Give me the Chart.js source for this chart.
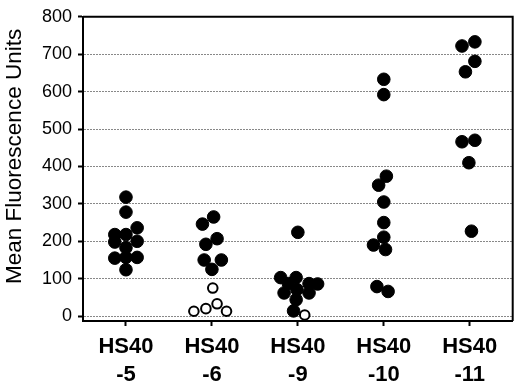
<!DOCTYPE html>
<html>
<head>
<meta charset="utf-8">
<script src="https://cdn.jsdelivr.net/npm/chart.js@4/dist/chart.umd.min.js"></script>
<style>
  html, body { margin: 0; padding: 0; background: #fff; }
  #wrap { width: 520px; height: 382px; }
</style>
</head>
<body>
<div id="wrap"><canvas id="chart" width="520" height="382"></canvas></div>
<script>
// group labels (two lines each)
const groupLabels = [["HS40", "-5"], ["HS40", "-6"], ["HS40", "-9"], ["HS40", "-10"], ["HS40", "-11"]];
const yTicks = [0, 100, 200, 300, 400, 500, 600, 700, 800];

// filled circles: values and sideways spread within each group
const hs5 = [318, 278, 236, 218, 218, 200, 198, 183, 155, 157, 157, 124];
const hs5Spread = [0, 0, 0.13, -0.13, 0, 0.13, -0.13, 0, -0.13, 0, 0.13, 0];
const hs6 = [265, 246, 207, 192, 150, 150, 125];
const hs6Spread = [0.02, -0.11, 0.06, -0.07, -0.09, 0.11, 0];
const hs9 = [224, 103, 103, 87, 87, 86, 62, 71, 62, 44, 14];
const hs9Spread = [0, -0.2, -0.02, -0.11, 0.13, 0.23, -0.16, -0.01, 0.13, -0.02, -0.05];
const hs10 = [633, 592, 374, 350, 305, 250, 211, 190, 178, 79, 66];
const hs10Spread = [0, 0, 0.03, -0.06, 0, 0, 0, -0.12, 0.02, -0.08, 0.05];
const hs11 = [722, 733, 681, 653, 466, 470, 410, 227];
const hs11Spread = [-0.09, 0.06, 0.06, -0.05, -0.09, 0.06, -0.01, 0.02];

// open circles
const hs6Open = [75, 33, 20, 13, 13];
const hs6OpenSpread = [0.01, 0.06, -0.07, -0.21, 0.17];
const hs9Open = [3];
const hs9OpenSpread = [0.08];

function toPoints(group, values, spread) {
    return values.map((v, i) => ({ x: group + spread[i], y: v }));
}

const filled = [].concat(
    toPoints(1, hs5, hs5Spread),
    toPoints(2, hs6, hs6Spread),
    toPoints(3, hs9, hs9Spread),
    toPoints(4, hs10, hs10Spread),
    toPoints(5, hs11, hs11Spread)
);
const open = [].concat(
    toPoints(2, hs6Open, hs6OpenSpread),
    toPoints(3, hs9Open, hs9OpenSpread)
);

// solid frame on top and right of the plot
const framePlugin = {
    id: "frame",
    afterDatasetsDraw(chart) {
        const { ctx, chartArea: a } = chart;
        ctx.save();
        ctx.strokeStyle = "#000";
        ctx.lineWidth = 2;
        ctx.beginPath();
        ctx.moveTo(a.left, a.top);
        ctx.lineTo(a.right, a.top);
        ctx.lineTo(a.right, a.bottom);
        ctx.stroke();
        ctx.restore();
    }
};

new Chart(document.getElementById("chart"), {
    type: "scatter",
    data: {
        datasets: [{
            data: filled,
            backgroundColor: "#000",
            borderColor: "#000",
            borderWidth: 1,
            pointRadius: 6.3,
            pointHoverRadius: 6.3
        }, {
            data: open,
            backgroundColor: "#fff",
            borderColor: "#000",
            borderWidth: 2,
            pointRadius: 4.8,
            pointHoverRadius: 4.8
        }]
    },
    options: {
        responsive: false,
        animation: false,
        clip: false,
        layout: { padding: { top: 10, right: 2, left: 0, bottom: 0 } },
        plugins: {
            legend: { display: false },
            tooltip: { enabled: false }
        },
        scales: {
            x: {
                type: "linear",
                min: 0.5,
                max: 5.5,
                afterBuildTicks(scale) {
                    scale.ticks = groupLabels.map((_, i) => ({ value: i + 1 }));
                },
                afterFit(scale) { scale.height = 61; },
                grid: {
                    drawOnChartArea: false,
                    drawTicks: true,
                    tickLength: 5,
                    tickColor: "#000",
                    tickWidth: 2
                },
                border: { color: "#000", width: 2 },
                ticks: {
                    autoSkip: false,
                    maxRotation: 0,
                    padding: 7,
                    color: "#000",
                    font: { family: "'Liberation Sans', Arial, sans-serif", size: 22, weight: "bold", lineHeight: 1.27 },
                    callback: (value) => groupLabels[Math.round(value) - 1]
                }
            },
            y: {
                min: -13,
                max: 800,
                afterBuildTicks(scale) {
                    scale.ticks = yTicks.map(v => ({ value: v }));
                },
                afterFit(scale) { scale.width = 83; },
                grid: {
                    color: "#888",
                    lineWidth: 1,
                    tickLength: 5,
                    tickColor: "#000",
                    tickWidth: 2
                },
                border: { color: "#000", width: 2, dash: [2, 1] },
                ticks: {
                    padding: 6,
                    color: "#000",
                    font: { family: "'Liberation Sans', Arial, sans-serif", size: 18 }
                },
                title: {
                    display: true,
                    text: "    Mean Fluorescence Units",
                    color: "#000",
                    padding: { top: 1, bottom: 0 },
                    font: { family: "'Liberation Sans', Arial, sans-serif", size: 22.5 }
                }
            }
        }
    },
    plugins: [framePlugin]
});
</script>
</body>
</html>
